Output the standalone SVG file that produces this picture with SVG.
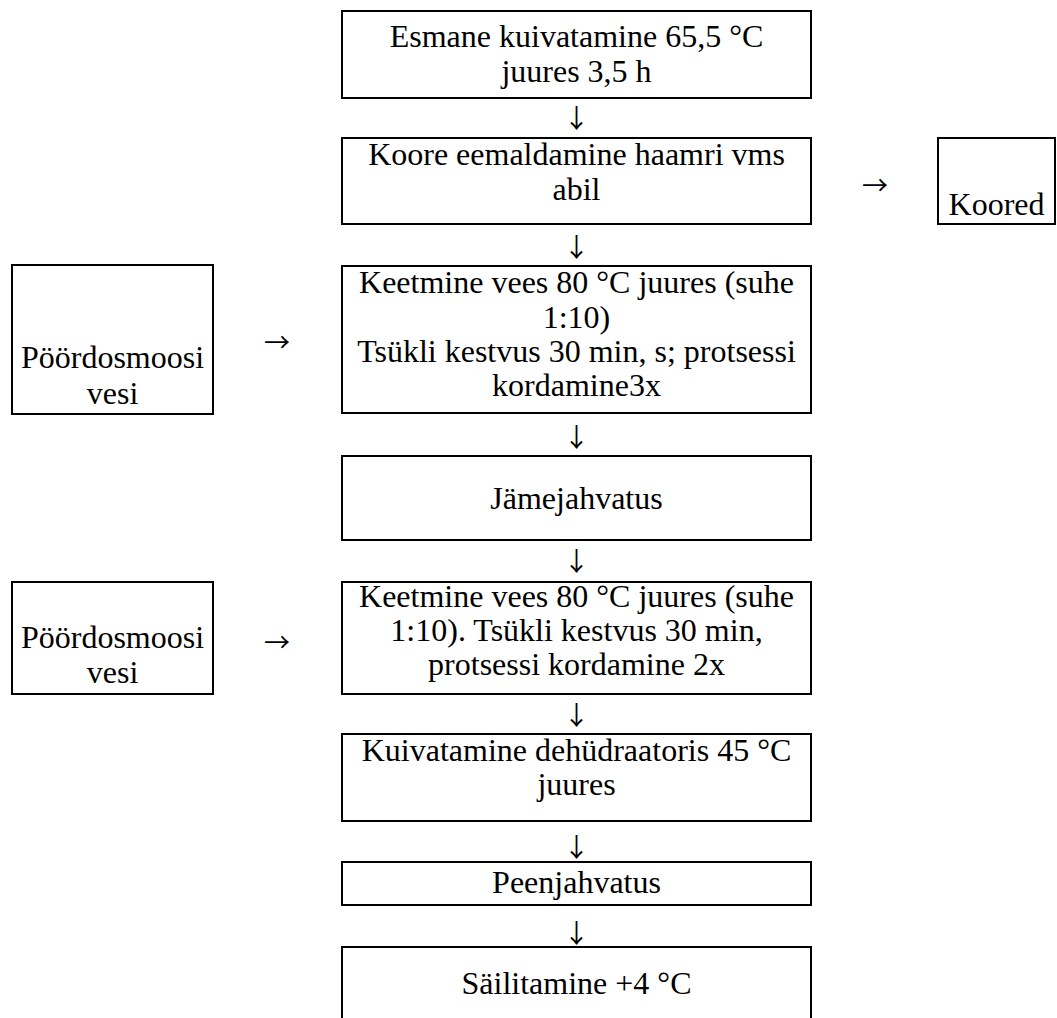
<svg xmlns="http://www.w3.org/2000/svg" width="1057" height="1018" viewBox="0 0 1057 1018">
<style>
rect.b{fill:#fff;stroke:#000;stroke-width:2}
text{font-family:"Liberation Serif","Times New Roman",serif;font-size:32px;fill:#000;text-anchor:middle}
text.a{font-family:"Noto Sans CJK SC","DejaVu Sans",sans-serif;font-size:26px;dominant-baseline:central}
</style>
<rect width="1057" height="1018" fill="#fff"/>
<g id="n1"><rect class="b" x="342" y="11" width="469" height="87"/>
<text x="576.5" y="47">Esmane kuivatamine 65,5 °C</text><text x="576.5" y="82">juures 3,5 h</text></g>
<g id="n2"><rect class="b" x="342" y="138" width="469" height="86"/>
<text x="576.5" y="165">Koore eemaldamine haamri vms</text><text x="576.5" y="200">abil</text></g>
<g id="n3"><rect class="b" x="938" y="138" width="117" height="86"/>
<text x="996.5" y="215">Koored</text></g>
<g id="n4"><rect class="b" x="12" y="265" width="201" height="149"/>
<text x="112.5" y="368">Pöördosmoosi</text><text x="112.5" y="404">vesi</text></g>
<g id="n5"><rect class="b" x="342" y="266" width="469" height="147"/>
<text x="576.5" y="293">Keetmine vees 80 °C juures (suhe</text><text x="576.5" y="327.5">1:10)</text>
<text x="576.5" y="362">Tsükli kestvus 30 min, s; protsessi</text><text x="576.5" y="396">kordamine3x</text></g>
<g id="n6"><rect class="b" x="342" y="456" width="469" height="84"/>
<text x="576.5" y="509">Jämejahvatus</text></g>
<g id="n7"><rect class="b" x="12" y="582" width="201" height="112"/>
<text x="112.5" y="648">Pöördosmoosi</text><text x="112.5" y="683">vesi</text></g>
<g id="n8"><rect class="b" x="342" y="582" width="469" height="112"/>
<text x="576.5" y="607">Keetmine vees 80 °C juures (suhe</text><text x="576.5" y="641">1:10). Tsükli kestvus 30 min,</text>
<text x="576.5" y="675">protsessi kordamine 2x</text></g>
<g id="n9"><rect class="b" x="342" y="734" width="469" height="87"/>
<text x="576.5" y="761">Kuivatamine dehüdraatoris 45 °C</text><text x="576.5" y="795">juures</text></g>
<g id="n10"><rect class="b" x="342" y="862" width="469" height="43"/>
<text x="576.5" y="893">Peenjahvatus</text></g>
<g id="n11"><rect class="b" x="342" y="947" width="469" height="90"/>
<text x="576.5" y="994">Säilitamine +4 °C</text></g>
<g id="connectors">
<text class="a" x="576.5" y="116">↓</text>
<text class="a" x="576.5" y="245">↓</text>
<text class="a" x="576.5" y="435">↓</text>
<text class="a" x="576.5" y="559">↓</text>
<text class="a" x="576.5" y="713">↓</text>
<text class="a" x="576.5" y="845">↓</text>
<text class="a" x="576.5" y="931">↓</text>
<text class="a" x="875" y="183">→</text>
<text class="a" x="277" y="340">→</text>
<text class="a" x="277" y="640">→</text>
</g>
</svg>
